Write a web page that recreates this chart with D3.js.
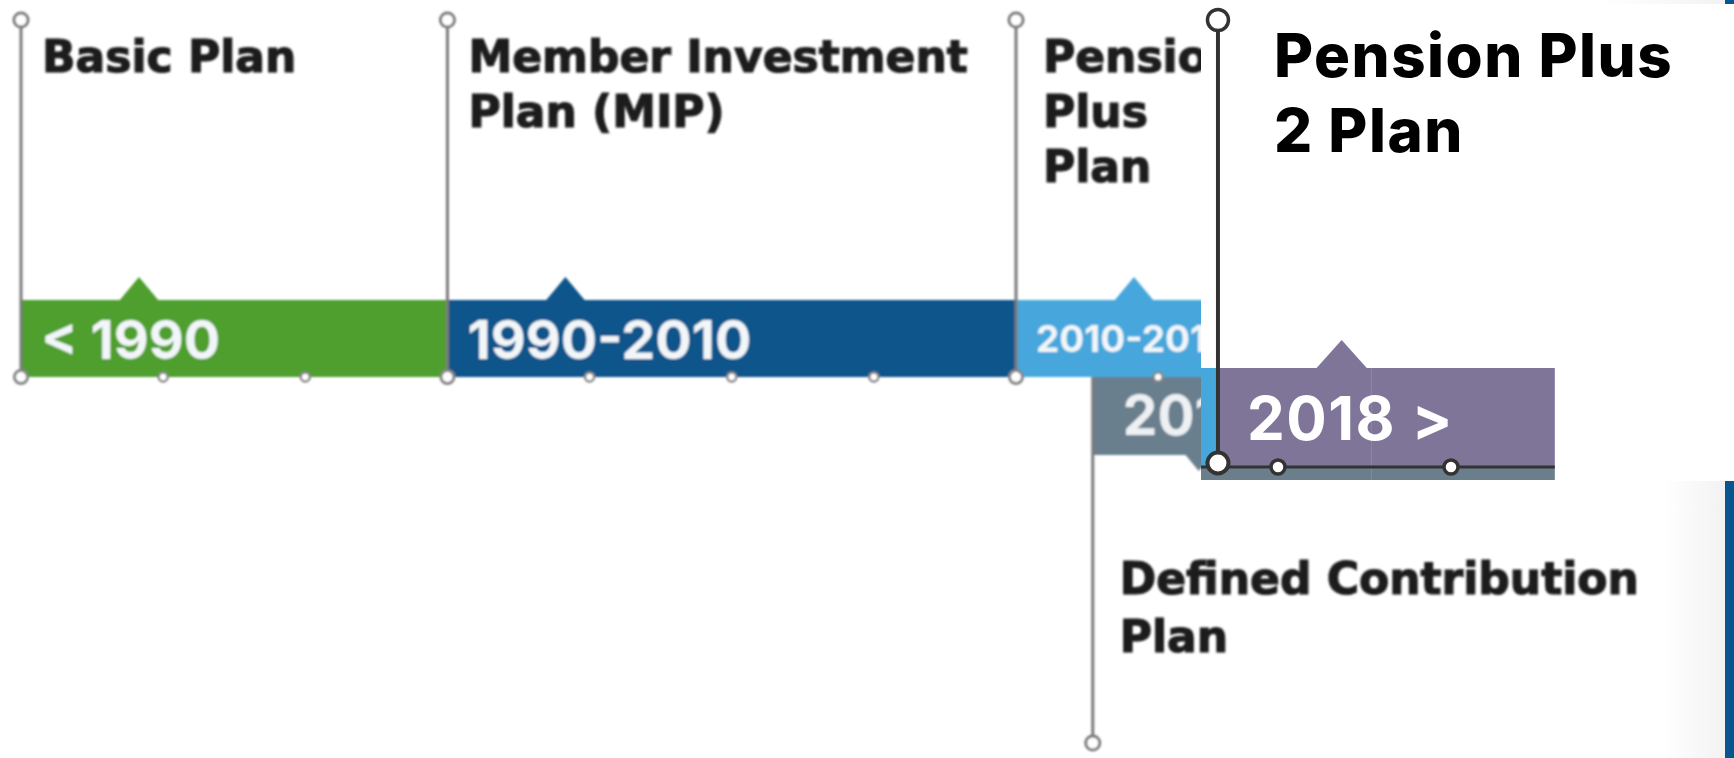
<!DOCTYPE html>
<html>
<head>
<meta charset="utf-8">
<script src="https://cdn.jsdelivr.net/npm/d3@7"></script>
<style>
    html, body { margin: 0; padding: 0; background: #fff; overflow: hidden; }
    svg { display: block; }
</style>
</head>
<body>
<svg id="chart" width="1734" height="758"></svg>
<script>
    // timeline units: one unit = one small tick on the bar
    const periodLabels = ["< 1990", "1990-2010", "2010-2017"];
    const periodStarts = [0, 3, 7];
    const periodEnds = [3, 7, 9];
    const planNames = [["Basic Plan"], ["Member Investment", "Plan (MIP)"], ["Pension", "Plus", "Plan"]];

    const dcYear = "2017";
    const dcStart = 7.54;
    const dcName = ["Defined Contribution", "Plan"];

    const pp2Year = "2018 >";
    const pp2Start = 7.653;
    const pp2End = 9.6;
    const pp2Name = ["Pension Plus", "2 Plan"];
    const pp2Ticks = [8, 9];

    const mainTicks = d3.range(0, 9);

    let svg = d3.select("#chart");
    let x = d3.scaleLinear().domain([0, 7]).range([21, 1016]);
    // the crisp inset is the same timeline, drawn a little larger
    let xz = d3.scaleLinear().domain([8, 9]).range([1278, 1451]);
    let color = d3.scaleOrdinal().domain(periodLabels).range(["#4f9f2e", "#0e548b", "#46a7dc"]);

    let barTop = 300, barBottom = 377;

    let defs = svg.append("defs");
    defs.append("filter").attr("id", "soft")
        .append("feGaussianBlur").attr("stdDeviation", 1.3);
    let grad = defs.append("linearGradient").attr("id", "fade");
    grad.append("stop").attr("offset", "0%").attr("stop-color", "#fff");
    grad.append("stop").attr("offset", "100%").attr("stop-color", "#f2f2f2");

    // ---- blurry background timeline ----
    let bg = svg.append("g").attr("filter", "url(#soft)");

    // defined contribution branch (under the main bar)
    bg.append("rect")
        .attr("x", x(dcStart)).attr("y", barBottom)
        .attr("width", 130).attr("height", 78)
        .attr("fill", "#6b7f8e");
    bg.append("path")
        .attr("d", `M${x(dcStart) + 92},${barBottom + 77} l14,17 l14,-17 Z`)
        .attr("fill", "#6b7f8e");
    bg.append("text")
        .attr("x", x(dcStart) + 30).attr("y", 435)
        .attr("font-family", "Inter").attr("font-weight", 700)
        .attr("font-size", 55).attr("fill", "#eef1f3")
        .text(dcYear);
    bg.append("line")
        .attr("x1", x(dcStart)).attr("x2", x(dcStart))
        .attr("y1", barBottom).attr("y2", 736)
        .attr("stroke", "#7a7a7a").attr("stroke-width", 3);
    bg.append("circle")
        .attr("cx", x(dcStart)).attr("cy", 743).attr("r", 7)
        .attr("fill", "#fff").attr("stroke", "#7a7a7a").attr("stroke-width", 3);
    bg.append("g").selectAll("text").data(dcName).join("text")
        .attr("x", x(dcStart) + 27).attr("y", (d, i) => 594 + i * 58)
        .attr("font-family", "DejaVu Sans").attr("font-weight", "bold")
        .attr("font-size", 44).attr("fill", "#1c1c1c")
        .attr("stroke", "#1c1c1c").attr("stroke-width", 1.2)
        .text(d => d);

    let periods = periodLabels.map((label, i) => ({
        label, start: periodStarts[i], end: periodEnds[i], name: planNames[i]
    }));

    let seg = bg.selectAll("g.period").data(periods).join("g").attr("class", "period");

    seg.append("rect")
        .attr("x", d => x(d.start)).attr("y", barTop)
        .attr("width", d => x(d.end) - x(d.start)).attr("height", barBottom - barTop)
        .attr("fill", d => color(d.label));

    seg.append("path")
        .attr("d", d => {
            let cx = x(d.start + 0.83);
            return `M${cx - 20},${barTop + 1} L${cx},${barTop - 23} L${cx + 20},${barTop + 1} Z`;
        })
        .attr("fill", d => color(d.label));

    seg.append("text")
        .attr("x", d => x(d.start) + 20)
        .attr("y", (d, i) => (barTop + barBottom) / 2 + (i < 2 ? 20 : 13))
        .attr("font-family", "Inter").attr("font-weight", 700)
        .attr("font-size", (d, i) => i < 2 ? 54 : 37)
        .attr("fill", "#f2f6f9")
        .text(d => d.label);

    seg.append("line")
        .attr("x1", d => x(d.start)).attr("x2", d => x(d.start))
        .attr("y1", 27).attr("y2", barBottom)
        .attr("stroke", "#7a7a7a").attr("stroke-width", 3);

    seg.append("circle")
        .attr("cx", d => x(d.start)).attr("cy", 20).attr("r", 7)
        .attr("fill", "#fff").attr("stroke", "#7a7a7a").attr("stroke-width", 3);

    seg.append("g").selectAll("text")
        .data(d => d.name.map(line => ({line, start: d.start})))
        .join("text")
        .attr("x", d => x(d.start) + (d.start === 7 ? 27 : 21))
        .attr("y", (d, i) => 72 + i * 55)
        .attr("font-family", "DejaVu Sans").attr("font-weight", "bold")
        .attr("font-size", 44).attr("fill", "#1c1c1c")
        .attr("stroke", "#1c1c1c").attr("stroke-width", 1.2)
        .text(d => d.line);

    bg.append("g").selectAll("circle").data(mainTicks).join("circle")
        .attr("cx", d => x(d)).attr("cy", barBottom)
        .attr("r", d => periodStarts.includes(d) ? 6.5 : 4.5)
        .attr("fill", "#fff").attr("stroke", "#858585")
        .attr("stroke-width", d => periodStarts.includes(d) ? 3 : 2.5);

    // ---- crisp inset for Pension Plus 2 ----
    let panelLeft = 1201;
    let fg = svg.append("g");
    fg.append("rect")
        .attr("x", panelLeft).attr("y", 0)
        .attr("width", 1734 - panelLeft).attr("height", 480)
        .attr("fill", "#fff");

    let zTop = 368, zBottom = 467;
    fg.append("rect")
        .attr("x", panelLeft).attr("y", zTop)
        .attr("width", xz(pp2Start) - panelLeft).attr("height", zBottom - zTop)
        .attr("fill", color(periodLabels[2]));
    fg.append("rect")
        .attr("x", xz(pp2Start)).attr("y", zTop)
        .attr("width", xz(pp2End) - xz(pp2Start)).attr("height", zBottom - zTop)
        .attr("fill", "#7f7599");
    fg.append("rect")
        .attr("x", panelLeft).attr("y", zBottom)
        .attr("width", xz(pp2End) - panelLeft).attr("height", 13)
        .attr("fill", "#6a7e8b");
    fg.append("line")
        .attr("x1", xz(8.54)).attr("x2", xz(8.54))
        .attr("y1", zTop).attr("y2", 480)
        .attr("stroke", "#8e86a6").attr("stroke-width", 1);
    fg.append("path")
        .attr("d", () => {
            let cx = xz(pp2Start + 0.715);
            return `M${cx - 26},${zTop + 1} L${cx},${zTop - 28} L${cx + 26},${zTop + 1} Z`;
        })
        .attr("fill", "#7f7599");
    fg.append("text")
        .attr("x", xz(pp2Start) + 29).attr("y", 440)
        .attr("font-family", "Inter").attr("font-weight", 700)
        .attr("font-size", 60).attr("letter-spacing", 1.5)
        .attr("fill", "#fff")
        .text(pp2Year);
    fg.append("line")
        .attr("x1", panelLeft).attr("x2", xz(pp2End))
        .attr("y1", zBottom).attr("y2", zBottom)
        .attr("stroke", "#333").attr("stroke-width", 3);
    fg.append("line")
        .attr("x1", xz(pp2Start)).attr("x2", xz(pp2Start))
        .attr("y1", 31).attr("y2", zBottom - 4)
        .attr("stroke", "#333").attr("stroke-width", 4);
    fg.append("circle")
        .attr("cx", xz(pp2Start)).attr("cy", 20).attr("r", 10.5)
        .attr("fill", "#fff").attr("stroke", "#333").attr("stroke-width", 3.5);
    fg.append("circle")
        .attr("cx", xz(pp2Start)).attr("cy", zBottom - 4).attr("r", 10.5)
        .attr("fill", "#fff").attr("stroke", "#333").attr("stroke-width", 4);
    fg.append("g").selectAll("circle").data(pp2Ticks).join("circle")
        .attr("cx", d => xz(d)).attr("cy", zBottom)
        .attr("r", 7)
        .attr("fill", "#fff").attr("stroke", "#333").attr("stroke-width", 3.5);
    fg.append("g").selectAll("text").data(pp2Name).join("text")
        .attr("x", xz(pp2Start) + 56).attr("y", (d, i) => 77 + i * 75)
        .attr("font-family", "Inter").attr("font-weight", 800)
        .attr("font-size", 60).attr("letter-spacing", 1.5)
        .attr("fill", "#000")
        .text(d => d);

    // slide edge on the right
    svg.append("rect").attr("x", 1600).attr("y", 0).attr("width", 125).attr("height", 4).attr("fill", "url(#fade)");
    svg.append("rect").attr("x", 1725).attr("y", 0).attr("width", 9).attr("height", 4).attr("fill", "#08568f");
    svg.append("rect").attr("x", 1665).attr("y", 481).attr("width", 60).attr("height", 277).attr("fill", "url(#fade)");
    svg.append("rect").attr("x", 1725).attr("y", 481).attr("width", 9).attr("height", 277).attr("fill", "#08568f");
</script>
</body>
</html>
